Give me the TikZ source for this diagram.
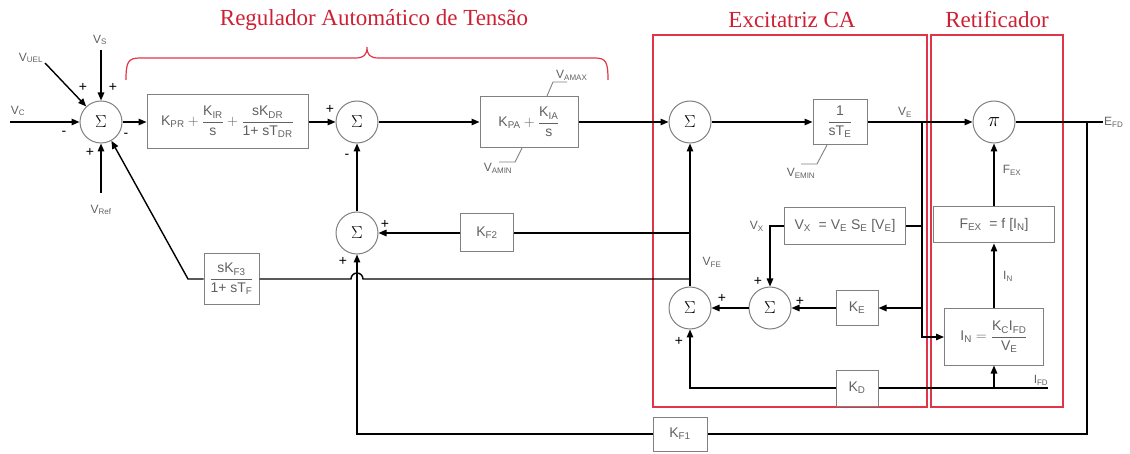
\documentclass[tikz,border=0pt]{standalone}
\usepackage{fontspec}
\setmainfont{Liberation Sans}
\newfontfamily\titlefont{Liberation Serif}
\usepackage{amsmath}
\usetikzlibrary{arrows.meta,calc,positioning}

\definecolor{boxgray}{gray}{0.5}
\definecolor{txtgray}{gray}{0.38}
\definecolor{framered}{RGB}{224,52,72}
\definecolor{titlered}{RGB}{206,32,52}

\begin{document}
\begin{tikzpicture}[
  x=1pt,y=-1pt,
  >={Triangle[length=8pt,width=6.5pt]},
  sig/.style={draw=black,line width=1.4pt,->},
  wire/.style={draw=black,line width=1.4pt},
  tick/.style={draw=boxgray,line width=0.9pt},
  block/.style={draw=boxgray,line width=1pt,fill=white,text=txtgray,
    inner sep=0pt,font=\fontsize{14}{16}\selectfont},
  summer/.style={circle,draw=boxgray,line width=1pt,fill=white,
    minimum size=42pt,inner sep=0pt,font=\fontsize{17}{17}\selectfont},
  product/.style={summer,font=\bfseries\fontsize{20}{20}\selectfont},
  siglabel/.style={text=txtgray,inner sep=1pt,font=\fontsize{12}{14}\selectfont},
  sign/.style={inner sep=0pt,font=\fontsize{14}{14}\selectfont},
  area/.style={draw=framered,line width=1.2pt},
  heading/.style={text=titlered,inner sep=0pt,font=\titlefont\fontsize{23}{26}\selectfont}
]
  \useasboundingbox (0,0) rectangle (1130,454);

  % Regions
  \draw[area] (653,35) rectangle (927,407);
  \draw[area] (931,35) rectangle (1063,407);
  \draw[area] (126,80) .. controls (126,62) and (128,58) .. (140,58)
    -- (355,58) .. controls (364,58) and (367,55) .. (367,47)
    .. controls (367,55) and (370,58) .. (379,58)
    -- (595,58) .. controls (606,58) and (608,62) .. (608,80);

  \node[heading] (avrtitle) at (374,20) {\titlefont Regulador Automático de Tensão};
  \node[heading] (exctitle) at (792,20) {\titlefont Excitatriz CA};
  \node[heading] (rettitle) at (997,20) {\titlefont Retificador};

  % Forward path
  \node[summer] (sA) at (101,122) {$\Sigma$};
  \node[block,minimum width=161pt,minimum height=54pt] (pid) at (227.5,122)
    {$\text{K\textsubscript{PR}} + \dfrac{\text{K\textsubscript{IR}}}{\text{s}}
      + \dfrac{\text{sK\textsubscript{DR}}}{\text{1+ sT\textsubscript{DR}}}$};
  \node[summer] (sB) at (357,122) {$\Sigma$};
  \node[block,minimum width=98pt,minimum height=51pt] (kpa) at (529,122)
    {$\text{K\textsubscript{PA}} + \dfrac{\text{K\textsubscript{IA}}}{\text{s}}$};
  \node[summer] (sC) at (690,122) {$\Sigma$};
  \node[block,minimum width=54pt,minimum height=45pt] (te) at (840,122)
    {$\dfrac{\text{1}}{\text{sT\textsubscript{E}}}$};
  \node[product] (prod) at (994,122) {$\mathbf{\pi}$};

  % Rate feedback
  \node[summer] (sF) at (357,233) {$\Sigma$};
  \node[block,minimum width=53pt,minimum height=38pt] (kf2) at (487,233) {K\textsubscript{F2}};
  \node[block,minimum width=55pt,minimum height=51pt] (kff) at (231.5,279)
    {$\dfrac{\text{sK\textsubscript{F3}}}{\text{1+ sT\textsubscript{F}}}$};
  \node[block,minimum width=54pt,minimum height=34pt] (kf1) at (680,434) {K\textsubscript{F1}};

  % Exciter
  \node[summer] (sD) at (690,308) {$\Sigma$};
  \node[summer] (sE) at (770,308) {$\Sigma$};
  \node[block,minimum width=121pt,minimum height=37pt] (vx) at (845,226)
    {V\textsubscript{X}\ \ = V\textsubscript{E} S\textsubscript{E} [V\textsubscript{E}]};
  \node[block,minimum width=42pt,minimum height=35pt] (ke) at (857,308) {K\textsubscript{E}};
  \node[block,minimum width=42pt,minimum height=36pt] (kd) at (857,388) {K\textsubscript{D}};

  % Rectifier
  \node[block,minimum width=121pt,minimum height=36pt] (fex) at (994,225)
    {F\textsubscript{EX}\ \ = f\ [I\textsubscript{N}]};
  \node[block,minimum width=99pt,minimum height=56pt] (inb) at (994,337)
    {$\text{I\textsubscript{N}} = \dfrac{\text{K\textsubscript{C}I\textsubscript{FD}}}{\text{V\textsubscript{E}}}$};

  % Inputs
  \coordinate (vcin) at (10,122);
  \coordinate (vuelin) at (45,63);
  \coordinate (vsin) at (101,50);
  \coordinate (vrefin) at (101,193);
  \draw[sig] (vcin) -- (sA.west);
  \draw[sig] (vuelin) -- (sA);
  \draw[sig] (vsin) -- (sA.north);
  \draw[sig] (vrefin) -- (sA.south);
  \node[siglabel] (vclab) at (18,111) {V\textsubscript{C}};
  \node[siglabel] (vuellab) at (31,58) {V\textsubscript{UEL}};
  \node[siglabel] (vslab) at (100,40) {V\textsubscript{S}};
  \node[siglabel] (vreflab) at (101,210) {V\textsubscript{Ref}};

  % Main connectors
  \coordinate (ve) at (922,122);
  \coordinate (efd) at (1087,122);
  \coordinate (efdend) at (1103,122);
  \draw[sig] (sA.east) -- (pid.west);
  \draw[sig] (pid.east) -- (sB.west);
  \draw[sig] (sB.east) -- (kpa.west);
  \draw[sig] (kpa.east) -- (sC.west);
  \draw[sig] (sC.east) -- (te.west);
  \draw[sig] (te.east) -- (prod.west);
  \draw[wire] (prod.east) -- (efdend);
  \node[siglabel,anchor=west] (efdlab) at (efdend) {E\textsubscript{FD}};
  \node[siglabel] (velab) at (905,112) {V\textsubscript{E}};

  % Limits
  \draw[tick] ($(kpa.north)+(18,0)$) -- ++(6,-14) -- ++(14,0);
  \node[siglabel,anchor=south west,inner sep=0pt] (vamax) at (556,81) {V\textsubscript{AMAX}};
  \draw[tick] ($(kpa.south)+(-7,0)$) -- ++(-7,14) -- ++(-16,0);
  \node[siglabel] (vamin) at (498,168) {V\textsubscript{AMIN}};
  \draw[tick] ($(te.south)+(-13,0)$) -- ++(-10,19) -- ++(-16,0);
  \node[siglabel] (vemin) at (801,173) {V\textsubscript{EMIN}};

  % VFE and rate feedback
  \coordinate (vfeA) at (690,233);
  \coordinate (vfeB) at (690,279);
  \draw[sig] (sD.north) -- (sC.south);
  \node[siglabel] (vfelab) at (712,262) {V\textsubscript{FE}};
  \draw[wire] (vfeA) -- (kf2.east);
  \draw[sig] (kf2.west) -- (sF.east);
  \draw[sig] (sF.north) -- (sB.south);
  \draw[wire] (vfeB) -- (363,279) arc[start angle=0,end angle=-180,radius=6]
    -- (kff.east);
  \draw[sig] (kff.west) -- (188,279) -- (sA);
  \coordinate (bot) at (1087,434);
  \draw[wire] (efd) -- (bot) -- (kf1.east);
  \draw[sig] (kf1.west) -| (sF.south);

  % Exciter connectors
  \coordinate (ifd) at (1048,388);
  \draw[sig] (ve) |- (inb.west);
  \draw[sig] (ve |- ke.east) -- (ke.east);
  \draw[wire] (vx.east) -- (ve |- vx.east);
  \draw[sig] (vx.west) -| (sE.north);
  \node[siglabel,anchor=east] (vxlab) at (765,226) {V\textsubscript{X}};
  \draw[sig] (ke.west) -- (sE.east);
  \draw[sig] (sE.west) -- (sD.east);
  \draw[sig] (kd.west) -| (sD.south);
  \draw[wire] (ifd) -- (kd.east);
  \node[siglabel] (ifdlab) at (1041,380) {I\textsubscript{FD}};
  \draw[sig] (inb.south |- ifd) -- (inb.south);
  \draw[sig] (inb.north) -- (fex.south);
  \node[siglabel] (inlab) at (1008,276) {I\textsubscript{N}};
  \draw[sig] (fex.north) -- (prod.south);
  \node[siglabel] (fexlab) at (1012,170) {F\textsubscript{EX}};

  % Signs
  \node[sign] at (83,87) {+};
  \node[sign] at (113,87) {+};
  \node[sign] at (64,133) {-};
  \node[sign] at (90,152) {+};
  \node[sign] at (126,135) {-};
  \node[sign] at (330,109) {+};
  \node[sign] at (347,156) {-};
  \node[sign] at (385,224) {+};
  \node[sign] at (343,261) {+};
  \node[sign] at (722,298) {+};
  \node[sign] at (679,341) {+};
  \node[sign] at (758,281) {+};
  \node[sign] at (800,301) {+};
\end{tikzpicture}
\end{document}
